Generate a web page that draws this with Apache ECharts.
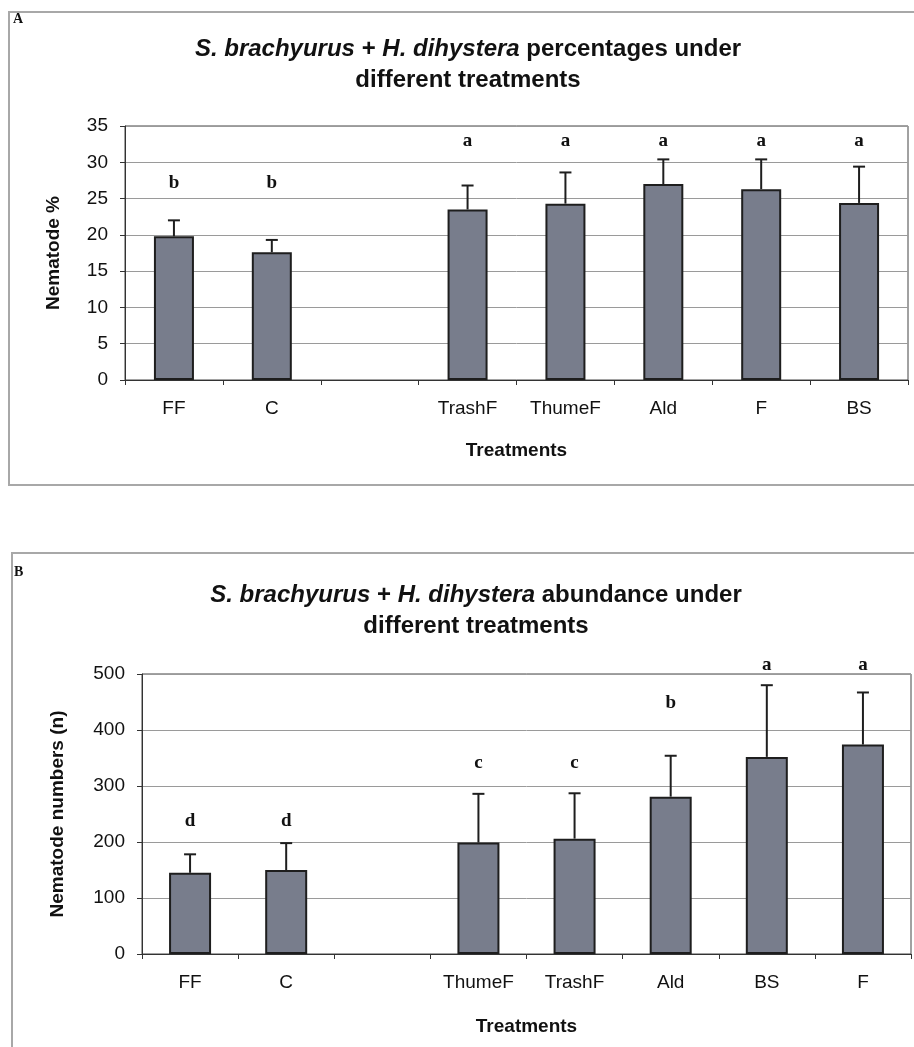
<!DOCTYPE html>
<html>
<head>
<meta charset="utf-8">
<script src="https://cdn.jsdelivr.net/npm/echarts@6/dist/echarts.min.js"></script>
<style>
html,body{margin:0;padding:0;background:#fff;}
#chart{width:914px;height:1047px;}
</style>
</head>
<body>
<div id="chart"></div>
<script>
// ---- Panel A data ----
const catsA = ['FF', 'C', '', 'TrashF', 'ThumeF', 'Ald', 'F', 'BS'];
const meanA = [19.8, 17.6, null, 23.5, 24.3, 27.0, 26.3, 24.4];
const errTopA = [22.0, 19.3, null, 26.8, 28.6, 30.4, 30.4, 29.4];
const lettersA = ['b', 'b', '', 'a', 'a', 'a', 'a', 'a'];
const letterPosA = [27.2, 27.2, null, 32.9, 32.9, 32.9, 32.9, 32.9];
const ticksA = { min: 0, max: 35, interval: 5 };

// ---- Panel B data ----
const catsB = ['FF', 'C', '', 'ThumeF', 'TrashF', 'Ald', 'BS', 'F'];
const meanB = [145, 150, null, 199, 206, 281, 352, 374];
const errTopB = [178, 198, null, 286, 287, 354, 480, 467];
const lettersB = ['d', 'd', '', 'c', 'c', 'b', 'a', 'a'];
const letterPosB = [237, 237, null, 341, 341, 448, 516, 516];
const ticksB = { min: 0, max: 500, interval: 100 };

const SANS = '"Liberation Sans", Arial, sans-serif';
const SERIF = '"Liberation Serif", "Times New Roman", serif';
const BAR_FILL = '#787d8c';
const DARK = '#1e1e1e';

function errData(mean, top) {
  const out = [];
  mean.forEach((m, i) => { if (m != null) out.push([i, m, top[i]]); });
  return out;
}
function letterData(letters, pos) {
  const out = [];
  letters.forEach((l, i) => { if (l) out.push([i, pos[i], l]); });
  return out;
}
function errRender(params, api) {
  const i = api.value(0);
  const p0 = api.coord([i, api.value(1)]);
  const p1 = api.coord([i, api.value(2)]);
  const half = 6;
  return {
    type: 'group',
    children: [
      { type: 'line', shape: { x1: p0[0], y1: p0[1], x2: p1[0], y2: p1[1] }, style: { stroke: DARK, lineWidth: 2 } },
      { type: 'line', shape: { x1: p1[0] - half, y1: p1[1], x2: p1[0] + half, y2: p1[1] }, style: { stroke: DARK, lineWidth: 2 } }
    ]
  };
}
function makeLetterSeries(letters, pos, axisIdx) {
  const data = letterData(letters, pos);
  const labels = data.map(d => d[2]);
  return {
    type: 'custom', xAxisIndex: axisIdx, yAxisIndex: axisIdx, clip: false, z: 10,
    data: data.map(d => [d[0], d[1]]),
    renderItem: function (params, api) {
      const p = api.coord([api.value(0), api.value(1)]);
      return {
        type: 'text', x: p[0], y: p[1],
        style: {
          text: labels[params.dataIndex], fill: '#111', font: 'bold 19px ' + SERIF,
          textAlign: 'center', textVerticalAlign: 'middle'
        }
      };
    }
  };
}

function xAxisCfg(cats, gridIdx, nameGap) {
  return {
    type: 'category', gridIndex: gridIdx, data: cats,
    axisLine: { show: true, lineStyle: { color: '#333', width: 1 } },
    axisTick: { show: true, length: 5, lineStyle: { color: '#333' } },
    axisLabel: { color: '#111', fontFamily: SANS, fontSize: 19, margin: 19, interval: 0 },
    name: 'Treatments', nameLocation: 'middle', nameGap: nameGap,
    nameTextStyle: { color: '#111', fontFamily: SANS, fontSize: 19, fontWeight: 'bold' }
  };
}
function yAxisCfg(ticks, gridIdx, name, nameGap) {
  return {
    type: 'value', gridIndex: gridIdx, min: ticks.min, max: ticks.max, interval: ticks.interval,
    axisLine: { show: true, lineStyle: { color: '#333', width: 1 } },
    axisTick: { show: true, length: 5, lineStyle: { color: '#333' } },
    axisLabel: { color: '#111', fontFamily: SANS, fontSize: 19, margin: 17 },
    splitLine: { show: true, lineStyle: { color: '#9a9a9a', width: 1 } },
    name: name, nameLocation: 'middle', nameGap: nameGap,
    nameTextStyle: { color: '#111', fontFamily: SANS, fontSize: 19, fontWeight: 'bold' }
  };
}

const titleRich = { i: { fontStyle: 'italic', fontWeight: 'bold', fontSize: 24, fontFamily: SANS, color: '#111' } };

const option = {
  animation: false,
  backgroundColor: '#fff',
  title: [
    {
      text: '{i|S. brachyurus} + {i|H. dihystera} percentages under\ndifferent treatments',
      left: 463, top: 29, textAlign: 'center',
      textStyle: { fontFamily: SANS, fontSize: 24, fontWeight: 'bold', color: '#111', lineHeight: 31, rich: titleRich }
    },
    {
      text: '{i|S. brachyurus} + {i|H. dihystera} abundance under\ndifferent treatments',
      left: 471, top: 575, textAlign: 'center',
      textStyle: { fontFamily: SANS, fontSize: 24, fontWeight: 'bold', color: '#111', lineHeight: 31, rich: titleRich }
    }
  ],
  grid: [
    { left: 125, top: 126, width: 783, height: 254, show: true, borderColor: '#444', borderWidth: 1, backgroundColor: 'transparent' },
    { left: 142, top: 674, width: 769, height: 280, show: true, borderColor: '#444', borderWidth: 1, backgroundColor: 'transparent' }
  ],
  xAxis: [xAxisCfg(catsA, 0, 61), xAxisCfg(catsB, 1, 63)],
  yAxis: [yAxisCfg(ticksA, 0, 'Nematode %', 62), yAxisCfg(ticksB, 1, 'Nematode numbers (n)', 75)],
  graphic: [
    { type: 'rect', shape: { x: 9, y: 12, width: 920, height: 473 }, style: { fill: 'none', stroke: '#a8a8a8', lineWidth: 2 }, z: -1 },
    { type: 'rect', shape: { x: 12, y: 553, width: 920, height: 600 }, style: { fill: 'none', stroke: '#a8a8a8', lineWidth: 2 }, z: -1 },
    { type: 'text', x: 13, y: 12, style: { text: 'A', font: 'bold 14px ' + SERIF, fill: '#111' } },
    { type: 'text', x: 14, y: 565, style: { text: 'B', font: 'bold 14px ' + SERIF, fill: '#111' } }
  ],
  series: [
    {
      type: 'bar', xAxisIndex: 0, yAxisIndex: 0, data: meanA, barWidth: 40,
      itemStyle: { color: BAR_FILL, borderColor: DARK, borderWidth: 2 }
    },
    { type: 'custom', xAxisIndex: 0, yAxisIndex: 0, data: errData(meanA, errTopA), renderItem: errRender, z: 5 },
    makeLetterSeries(lettersA, letterPosA, 0),
    {
      type: 'bar', xAxisIndex: 1, yAxisIndex: 1, data: meanB, barWidth: 42,
      itemStyle: { color: BAR_FILL, borderColor: DARK, borderWidth: 2 }
    },
    { type: 'custom', xAxisIndex: 1, yAxisIndex: 1, data: errData(meanB, errTopB), renderItem: errRender, z: 5 },
    makeLetterSeries(lettersB, letterPosB, 1)
  ]
};

const chart = echarts.init(document.getElementById('chart'), null, { renderer: 'canvas' });
chart.setOption(option);
</script>
</body>
</html>
